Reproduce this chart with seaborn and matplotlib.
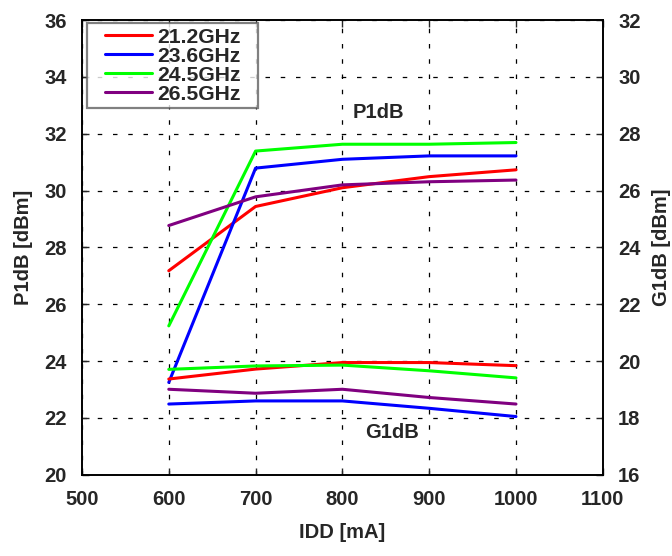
import matplotlib
matplotlib.use("Agg")
import matplotlib.pyplot as plt
from matplotlib.lines import Line2D
from matplotlib.legend_handler import HandlerLine2D
import seaborn as sns
import pandas as pd

# IDD sweep [mA]
idd = [600, 700, 800, 900, 1000]

freqs = ["21.2GHz", "23.6GHz", "24.5GHz", "26.5GHz"]
colors = ["#ff0000", "#0000ff", "#00ff00", "#800080"]

# P1dB [dBm] (left axis)
p1db_212 = [27.18, 29.44, 30.10, 30.49, 30.73]
p1db_236 = [23.25, 30.79, 31.10, 31.22, 31.22]
p1db_245 = [25.24, 31.39, 31.63, 31.63, 31.69]
p1db_265 = [28.77, 29.78, 30.20, 30.31, 30.37]

# G1dB [dBm] (right axis)
g1db_212 = [19.37, 19.72, 19.95, 19.95, 19.84]
g1db_236 = [18.49, 18.60, 18.60, 18.34, 18.05]
g1db_245 = [19.71, 19.83, 19.86, 19.66, 19.41]
g1db_265 = [19.01, 18.87, 19.01, 18.72, 18.49]

p1db = pd.DataFrame({"IDD": idd * 4,
                     "val": p1db_212 + p1db_236 + p1db_245 + p1db_265,
                     "freq": sum([[f] * 5 for f in freqs], [])})
g1db = pd.DataFrame({"IDD": idd * 4,
                     "val": g1db_212 + g1db_236 + g1db_245 + g1db_265,
                     "freq": sum([[f] * 5 for f in freqs], [])})

sns.set_style("white")
plt.rcParams["font.family"] = ["Liberation Sans", "DejaVu Sans"]
plt.rcParams["font.weight"] = "bold"
plt.rcParams["axes.labelweight"] = "bold"

fig = plt.figure(figsize=(6.72, 5.56), dpi=100)
ax = fig.add_axes([0.122, 0.146, 0.775, 0.818])
ax2 = ax.twinx()

pal = dict(zip(freqs, colors))
sns.lineplot(data=p1db, x="IDD", y="val", hue="freq", palette=pal,
             linewidth=2.2, ax=ax)
sns.lineplot(data=g1db, x="IDD", y="val", hue="freq", palette=pal,
             linewidth=2.2, ax=ax2, legend=False)

ax.set_xlim(500, 1100)
ax.set_ylim(20, 36)
ax2.set_ylim(16, 32)
ax.set_xticks(range(500, 1101, 100))
ax.set_yticks(range(20, 37, 2))
ax2.set_yticks(range(16, 33, 2))

ax.grid(True, color="black", linewidth=0.9, linestyle=(0, (3.6, 8.6)))
for a in (ax, ax2):
    for s in a.spines.values():
        s.set_color("black")
        s.set_linewidth(1.2)

ax.tick_params(axis="both", direction="in", length=5, width=1, pad=11,
               labelsize=14.5, top=True, bottom=True, left=True)
ax2.tick_params(axis="y", direction="in", length=5, width=1, pad=11,
                labelsize=14.5, right=True)
for lab in ax.get_xticklabels() + ax.get_yticklabels() + ax2.get_yticklabels():
    lab.set_fontweight("bold")

ax.set_xlabel("IDD [mA]", fontsize=14.5, fontweight="bold", labelpad=10)
ax.set_ylabel("P1dB [dBm]", fontsize=14.5, fontweight="bold", labelpad=8)
ax2.set_ylabel("G1dB [dBm]", fontsize=14.5, fontweight="bold", labelpad=8)

ax.text(842, 32.73, "P1dB", fontsize=14.5, fontweight="bold",
        ha="center", va="center")
ax.text(857, 21.5, "G1dB", fontsize=14.5, fontweight="bold",
        ha="center", va="center")

# legend box roughly 171 x 91 px, inset a few px from the axes corner
leg = ax.legend(loc="upper left", bbox_to_anchor=(0.01, 0.993, 0.328, 0),
                mode="expand", fontsize=15.2, frameon=True,
                fancybox=False, edgecolor="#606060", handlelength=2.85,
                handletextpad=0.25, labelspacing=0.0, borderpad=0.22,
                borderaxespad=0.0, title=None,
                handler_map={Line2D: HandlerLine2D(xpad=0.6)})
leg.get_frame().set_linewidth(1.6)
for t in leg.get_texts():
    t.set_fontweight("bold")
for h in leg.get_lines():
    h.set_linewidth(2.2)

fig.savefig("out.png", dpi=100)
